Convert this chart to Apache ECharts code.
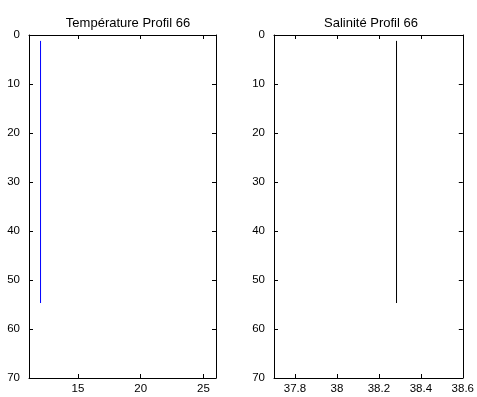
<!DOCTYPE html>
<html>
<head>
<meta charset="utf-8">
<script src="https://cdn.jsdelivr.net/npm/echarts@6/dist/echarts.min.js"></script>
<style>html,body{margin:0;padding:0;background:#fff;}#c{width:477px;height:397px;}</style>
</head>
<body>
<div id="c"></div>
<script>
// Data
var depth = [1.2, 10, 20, 30, 40, 50, 54.7];
var temperature = [12.02, 12.02, 12.02, 12.02, 12.02, 12.02, 12.02];
var salinity = [38.284, 38.284, 38.284, 38.284, 38.284, 38.284, 38.284];
var depthTicks = [0, 10, 20, 30, 40, 50, 60, 70];
var tempTicks = [15, 20, 25];
var salTicks = [37.8, 38, 38.2, 38.4, 38.6];
var titles = ['Température Profil 66', 'Salinité Profil 66'];

var FONT = 'Liberation Sans';
var chart = echarts.init(document.getElementById('c'));

function pairs(xs, ys) { return xs.map(function (x, i) { return [x, ys[i]]; }); }

function xAx(gi, min, max, ticks, pos, showLabel) {
  return {
    type: 'value', gridIndex: gi, min: min, max: max, position: pos,
    axisLine: { show: true, onZero: false, lineStyle: { color: '#000', width: 1 } },
    axisTick: { show: true, inside: true, length: 4, customValues: ticks, lineStyle: { color: '#000' } },
    axisLabel: { show: showLabel, customValues: ticks, color: '#000', fontFamily: FONT, fontSize: 11.5, margin: 5,
      formatter: function (v) { return String(+v.toFixed(2)); } },
    splitLine: { show: false }
  };
}
function yAx(gi, pos, showLabel) {
  return {
    type: 'value', gridIndex: gi, min: 0, max: 70, inverse: true, position: pos,
    axisLine: { show: true, onZero: false, lineStyle: { color: '#000', width: 1 } },
    axisTick: { show: true, inside: true, length: 4, customValues: depthTicks, lineStyle: { color: '#000' } },
    axisLabel: { show: showLabel, customValues: depthTicks, color: '#000', fontFamily: FONT, fontSize: 11.5, margin: 9 },
    splitLine: { show: false }
  };
}

chart.setOption({
  animation: false,
  backgroundColor: '#fff',
  title: [
    { text: titles[0], left: 123, top: 12, textAlign: 'center',
      textStyle: { fontFamily: FONT, fontSize: 13, fontWeight: 'normal', color: '#000' } },
    { text: titles[1], left: 366, top: 12, textAlign: 'center',
      textStyle: { fontFamily: FONT, fontSize: 13, fontWeight: 'normal', color: '#000' } }
  ],
  grid: [
    { left: 29, top: 35, width: 187, height: 343 },
    { left: 274, top: 35, width: 189, height: 343 }
  ],
  xAxis: [
    xAx(0, 11.1, 26, tempTicks, 'bottom', true),
    xAx(0, 11.1, 26, tempTicks, 'top', false),
    xAx(1, 37.7, 38.6, salTicks, 'bottom', true),
    xAx(1, 37.7, 38.6, salTicks, 'top', false)
  ],
  yAxis: [
    yAx(0, 'left', true),
    yAx(0, 'right', false),
    yAx(1, 'left', true),
    yAx(1, 'right', false)
  ],
  series: [
    { type: 'line', xAxisIndex: 0, yAxisIndex: 0, data: pairs(temperature, depth),
      showSymbol: false, symbol: 'none', lineStyle: { color: '#0000ff', width: 1 } },
    { type: 'line', xAxisIndex: 2, yAxisIndex: 2, data: pairs(salinity, depth),
      showSymbol: false, symbol: 'none', lineStyle: { color: '#000', width: 1 } }
  ]
});
</script>
</body>
</html>
